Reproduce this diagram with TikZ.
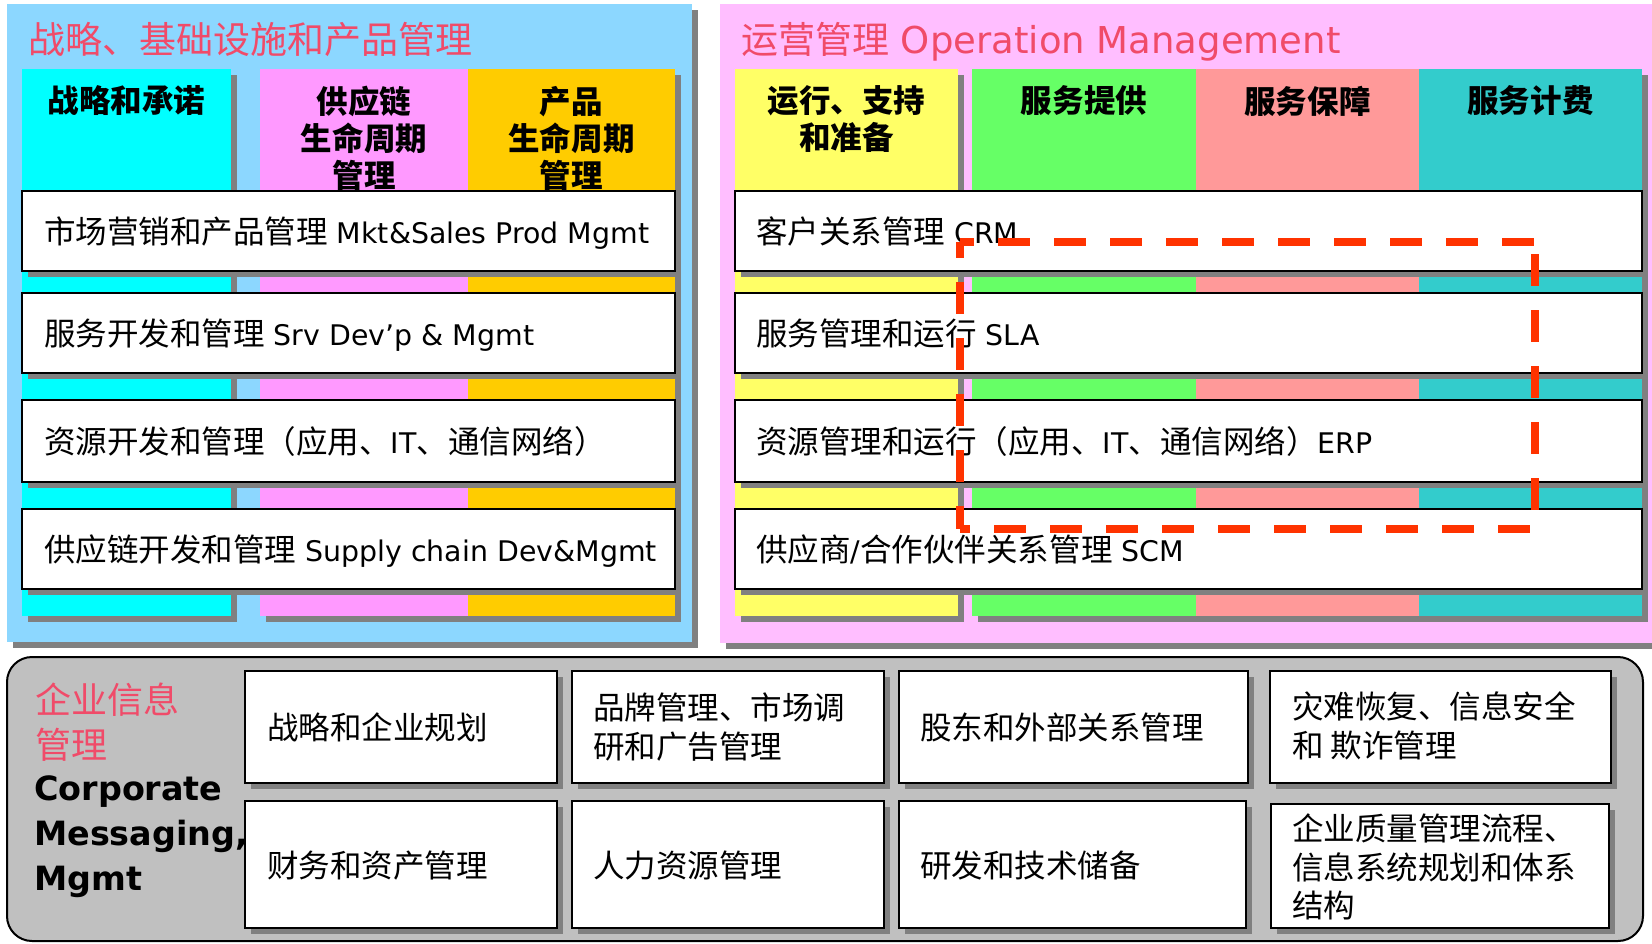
\documentclass[tikz,border=0pt]{standalone}
\usepackage{fontspec}
\setmainfont{DejaVu Sans}
\newfontfamily\cjk{Noto Sans CJK SC}[Scale=1.11]
\newfontfamily\cjkn{Noto Sans CJK SC}
\usetikzlibrary{shadows}
\definecolor{panelblue}{RGB}{140,215,255}
\definecolor{panelpink}{RGB}{255,190,255}
\definecolor{ccyan}{RGB}{0,255,255}
\definecolor{cpink}{RGB}{255,153,255}
\definecolor{corange}{RGB}{255,204,0}
\definecolor{cyellow}{RGB}{255,255,102}
\definecolor{cgreen}{RGB}{102,255,102}
\definecolor{csalmon}{RGB}{255,153,153}
\definecolor{cteal}{RGB}{51,204,204}
\definecolor{shadowgray}{RGB}{128,128,128}
\definecolor{bgray}{RGB}{192,192,192}
\definecolor{titlered}{RGB}{240,75,105}
\definecolor{dashred}{RGB}{255,51,0}
\newcommand{\zh}[1]{{\cjk #1}}
\begin{document}
\begin{tikzpicture}[x=1pt,y=-1pt,
  sh/.style={general shadow={fill=shadowgray,shadow xshift=6pt,shadow yshift=-6pt}},
  panel/.style={anchor=north west,inner sep=0pt,outer sep=0pt,draw=none,sh},
  colbox/.style={anchor=north west,inner sep=0pt,outer sep=0pt,draw=none,minimum height=547pt,sh},
  wbox/.style={anchor=north west,inner sep=0pt,outer sep=0pt,draw=black,line width=2pt,fill=white,sh},
  hdr/.style={anchor=center,inner sep=0pt,align=center,font=\cjk\bfseries\fontsize{28.4}{37}\selectfont},
  body/.style={anchor=base west,inner sep=0pt,font=\fontsize{28.4}{39}\selectfont},
  bodyml/.style={anchor=west,inner sep=0pt,align=left,font=\cjk\fontsize{28.4}{39}\selectfont},
  ttl/.style={anchor=base west,inner sep=0pt,text=titlered,font=\fontsize{37}{40}\selectfont},
  dashline/.style={draw=dashred,line width=7.5pt,dash pattern=on 32pt off 24pt}
]
\path[use as bounding box] (0,0) rectangle (1652,943);
\clip (0,0) rectangle (1652,943);

% panels
\node[panel,fill=panelblue,minimum width=685pt,minimum height=638pt] (lp) at (7,4) {};
\node[panel,fill=panelpink,minimum width=945pt,minimum height=639pt] (rp) at (720,4) {};

\node[ttl] (tl) at (28,53) {\cjkn 战略、基础设施和产品管理};
\node[ttl] (tr) at (741,53) {{\cjkn 运营管理} Operation Management};

% columns
\node[colbox,fill=ccyan,minimum width=209pt] (c1) at (22,69) {};
\node[colbox,fill=cpink,minimum width=208pt] (c2) at (260,69) {};
\node[colbox,fill=corange,minimum width=207pt] (c3) at (468,69) {};
\node[colbox,fill=cyellow,minimum width=223pt] (c4) at (735,69) {};
\node[colbox,fill=cgreen,minimum width=224pt] (c5) at (972,69) {};
\node[colbox,fill=csalmon,minimum width=223pt] (c6) at (1196,69) {};
\node[colbox,fill=cteal,minimum width=223pt] (c7) at (1419,69) {};

% column headers
\node[hdr] (h1) at (126.5,101) {战略和承诺};
\node[hdr] (h2) at (364,138) {供应链\\生命周期\\管理};
\node[hdr] (h3) at (571.5,138) {产品\\生命周期\\管理};
\node[hdr] (h4) at (846.5,119.5) {运行、支持\\和准备};
\node[hdr] (h5) at (1084,101) {服务提供};
\node[hdr] (h6) at (1307.5,101) {服务保障};
\node[hdr] (h7) at (1530.5,101) {服务计费};

% left white boxes
\node[wbox,minimum width=653pt,minimum height=80pt] (bL1) at (22,191) {};
\node[wbox,minimum width=653pt,minimum height=80pt] (bL2) at (22,293) {};
\node[wbox,minimum width=653pt,minimum height=82pt] (bL3) at (22,400) {};
\node[wbox,minimum width=653pt,minimum height=80pt] (bL4) at (22,509) {};
% right white boxes
\node[wbox,minimum width=907pt,minimum height=80pt] (bR1) at (735,191) {};
\node[wbox,minimum width=907pt,minimum height=80pt] (bR2) at (735,293) {};
\node[wbox,minimum width=907pt,minimum height=82pt] (bR3) at (735,400) {};
\node[wbox,minimum width=907pt,minimum height=80pt] (bR4) at (735,509) {};

\node[body] (tL1) at ([xshift=22pt,yshift=-12pt]bL1.west) {\zh{市场营销和产品管理} Mkt\&Sales Prod Mgmt};
\node[body] (tL2) at ([xshift=22pt,yshift=-12pt]bL2.west) {\zh{服务开发和管理} Srv Dev’p \& Mgmt};
\node[body] (tL3) at ([xshift=22pt,yshift=-12pt]bL3.west) {\zh{资源开发和管理（应用、}IT\zh{、通信网络）}};
\node[body] (tL4) at ([xshift=22pt,yshift=-12pt]bL4.west) {\zh{供应链开发和管理} Supply chain Dev\&Mgmt};

\node[body] (tR1) at ([xshift=21pt,yshift=-12pt]bR1.west) {\zh{客户关系管理} CRM};
\node[body] (tR2) at ([xshift=21pt,yshift=-12pt]bR2.west) {\zh{服务管理和运行} SLA};
\node[body] (tR3) at ([xshift=21pt,yshift=-12pt]bR3.west) {\zh{资源管理和运行（应用、}IT\zh{、通信网络）}ERP};
\node[body] (tR4) at ([xshift=21pt,yshift=-12pt]bR4.west) {\zh{供应商}/\zh{合作伙伴关系管理} SCM};

% dashed focus frame
\coordinate (dTL) at (960,242);
\coordinate (dTR) at (1535,242);
\coordinate (dBR) at (1535,529);
\coordinate (dBL) at (960,529);
\draw[dashline,dash phase=18pt] (dTL) -- (dTR);
\draw[dashline,dash phase=44pt] (dTR) -- (dBR);
\draw[dashline,dash phase=22pt] (dBL) -- (dBR);
\draw[dashline,dash phase=16pt] (dTL) -- (dBL);

% bottom panel
\node[anchor=north west,draw=black,line width=2pt,fill=bgray,rounded corners=25pt,
      minimum width=1636pt,minimum height=284pt,inner sep=0pt,outer sep=0pt] (bp) at (7,657) {};
\node[anchor=west,inner sep=0pt,align=left,text=titlered,font=\cjkn\fontsize{36}{45}\selectfont] (cm1) at (35,722.5) {企业信息\\管理};
\node[anchor=west,inner sep=0pt,align=left,font=\bfseries\fontsize{33.4}{45}\selectfont] (cm2) at (34,837) {Corporate\\Messaging,\\Mgmt};

\node[wbox,minimum width=312pt,minimum height=112pt] (b5) at (245,671) {};
\node[wbox,minimum width=312pt,minimum height=112pt] (b6) at (572,671) {};
\node[wbox,minimum width=349pt,minimum height=112pt] (b7) at (899,671) {};
\node[wbox,minimum width=341pt,minimum height=112pt] (b8) at (1270,671) {};
\node[wbox,minimum width=312pt,minimum height=127pt] (b9) at (245,801) {};
\node[wbox,minimum width=312pt,minimum height=127pt] (b10) at (572,801) {};
\node[wbox,minimum width=347pt,minimum height=127pt] (b11) at (899,801) {};
\node[wbox,minimum width=338pt,minimum height=124pt] (b12) at (1271,804) {};

\node[body] (t5) at ([xshift=22pt,yshift=-12pt]b5.west) {\zh{战略和企业规划}};
\node[bodyml] (t6) at ([xshift=21pt]b6.west) {品牌管理、市场调\\研和广告管理};
\node[body] (t7) at ([xshift=21pt,yshift=-12pt]b7.west) {\zh{股东和外部关系管理}};
\node[bodyml] (t8) at ([xshift=22pt,yshift=1pt]b8.west) {灾难恢复、信息安全\\和 欺诈管理};
\node[body] (t9) at ([xshift=22pt,yshift=-13pt]b9.west) {\zh{财务和资产管理}};
\node[body] (t10) at ([xshift=21pt,yshift=-13pt]b10.west) {\zh{人力资源管理}};
\node[body] (t11) at ([xshift=21pt,yshift=-13pt]b11.west) {\zh{研发和技术储备}};
\node[bodyml,font=\cjk\fontsize{28.4}{38.5}\selectfont] (t12) at ([xshift=21pt,yshift=-1pt]b12.west) {企业质量管理流程、\\信息系统规划和体系\\结构};
\end{tikzpicture}
\end{document}
